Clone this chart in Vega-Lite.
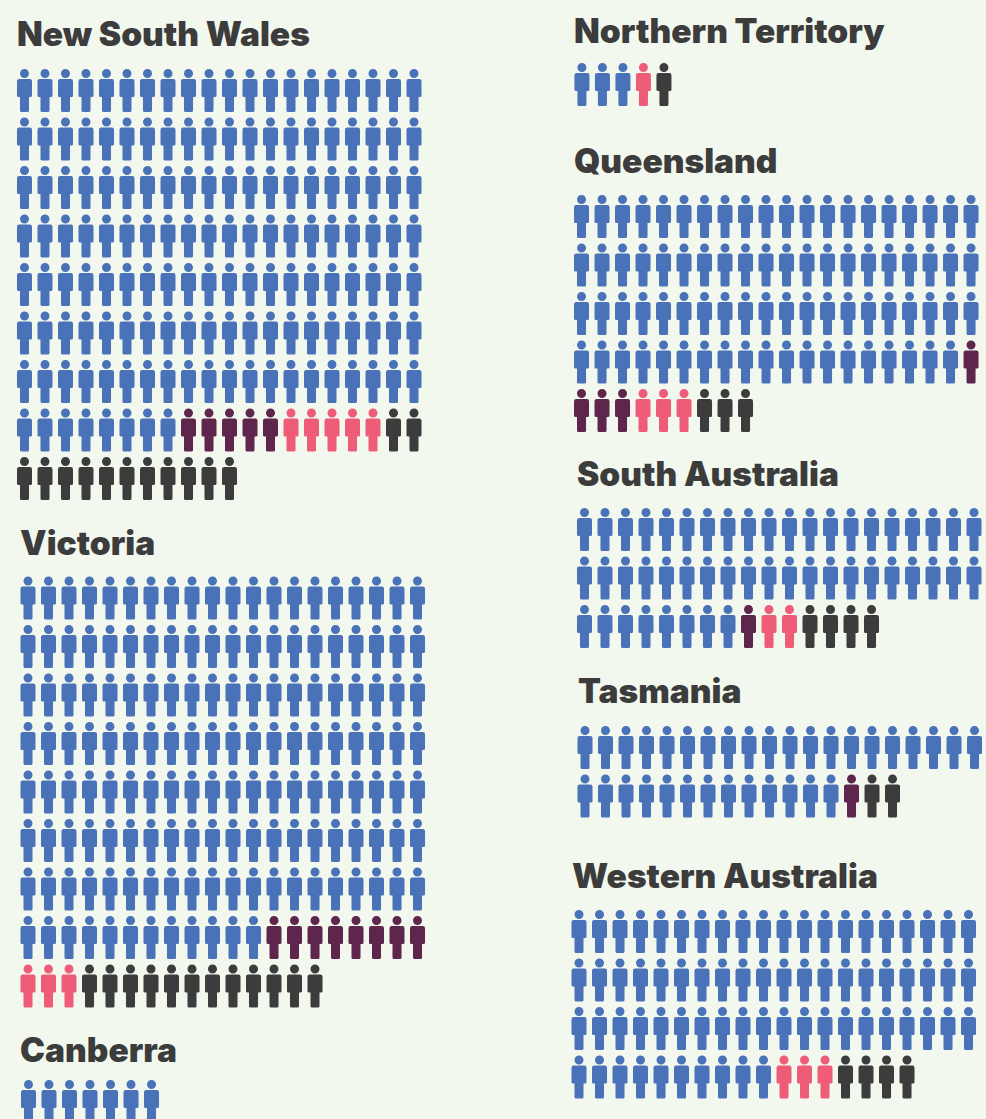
{"$schema":"https://vega.github.io/schema/vega-lite/v6.json","background":"#f3f8ee","padding":{"left":0,"right":0,"top":16,"bottom":0},"autosize":{"type":"pad"},"spacing":120,
"config":{"view":{"stroke":null},"title":{"font":"Inter","fontSize":33.5,"fontWeight":900,"color":"#3c3c3c","anchor":"start","frame":"group","offset":5.5},"point":{"shape":"M-0.21,-0.79 A0.21,0.21 0 1 1 0.21,-0.79 A0.21,0.21 0 1 1 -0.21,-0.79 Z M-0.25,-0.535 L0.25,-0.535 Q0.349,-0.535 0.349,-0.435 L0.349,0.24 Q0.349,0.3 0.28,0.3 L0.21,0.3 L0.21,0.93 Q0.21,1 0.14,1 L-0.14,1 Q-0.21,1 -0.21,0.93 L-0.21,0.3 L-0.28,0.3 Q-0.349,0.3 -0.349,0.24 L-0.349,-0.435 Q-0.349,-0.535 -0.25,-0.535 Z","filled":true,"size":1849,"opacity":1}},
"hconcat":[{"spacing":0,"vconcat":[
{"title":{"text":"New South Wales","dx":17,"dy":3},"width":440,"height":472,"data":{"values":[
{"row":0,"col":0,"group":"blue"},{"row":0,"col":1,"group":"blue"},{"row":0,"col":2,"group":"blue"},{"row":0,"col":3,"group":"blue"},{"row":0,"col":4,"group":"blue"},{"row":0,"col":5,"group":"blue"},{"row":0,"col":6,"group":"blue"},{"row":0,"col":7,"group":"blue"},{"row":0,"col":8,"group":"blue"},{"row":0,"col":9,"group":"blue"},{"row":0,"col":10,"group":"blue"},{"row":0,"col":11,"group":"blue"},{"row":0,"col":12,"group":"blue"},{"row":0,"col":13,"group":"blue"},{"row":0,"col":14,"group":"blue"},{"row":0,"col":15,"group":"blue"},{"row":0,"col":16,"group":"blue"},{"row":0,"col":17,"group":"blue"},{"row":0,"col":18,"group":"blue"},{"row":0,"col":19,"group":"blue"},
{"row":1,"col":0,"group":"blue"},{"row":1,"col":1,"group":"blue"},{"row":1,"col":2,"group":"blue"},{"row":1,"col":3,"group":"blue"},{"row":1,"col":4,"group":"blue"},{"row":1,"col":5,"group":"blue"},{"row":1,"col":6,"group":"blue"},{"row":1,"col":7,"group":"blue"},{"row":1,"col":8,"group":"blue"},{"row":1,"col":9,"group":"blue"},{"row":1,"col":10,"group":"blue"},{"row":1,"col":11,"group":"blue"},{"row":1,"col":12,"group":"blue"},{"row":1,"col":13,"group":"blue"},{"row":1,"col":14,"group":"blue"},{"row":1,"col":15,"group":"blue"},{"row":1,"col":16,"group":"blue"},{"row":1,"col":17,"group":"blue"},{"row":1,"col":18,"group":"blue"},{"row":1,"col":19,"group":"blue"},
{"row":2,"col":0,"group":"blue"},{"row":2,"col":1,"group":"blue"},{"row":2,"col":2,"group":"blue"},{"row":2,"col":3,"group":"blue"},{"row":2,"col":4,"group":"blue"},{"row":2,"col":5,"group":"blue"},{"row":2,"col":6,"group":"blue"},{"row":2,"col":7,"group":"blue"},{"row":2,"col":8,"group":"blue"},{"row":2,"col":9,"group":"blue"},{"row":2,"col":10,"group":"blue"},{"row":2,"col":11,"group":"blue"},{"row":2,"col":12,"group":"blue"},{"row":2,"col":13,"group":"blue"},{"row":2,"col":14,"group":"blue"},{"row":2,"col":15,"group":"blue"},{"row":2,"col":16,"group":"blue"},{"row":2,"col":17,"group":"blue"},{"row":2,"col":18,"group":"blue"},{"row":2,"col":19,"group":"blue"},
{"row":3,"col":0,"group":"blue"},{"row":3,"col":1,"group":"blue"},{"row":3,"col":2,"group":"blue"},{"row":3,"col":3,"group":"blue"},{"row":3,"col":4,"group":"blue"},{"row":3,"col":5,"group":"blue"},{"row":3,"col":6,"group":"blue"},{"row":3,"col":7,"group":"blue"},{"row":3,"col":8,"group":"blue"},{"row":3,"col":9,"group":"blue"},{"row":3,"col":10,"group":"blue"},{"row":3,"col":11,"group":"blue"},{"row":3,"col":12,"group":"blue"},{"row":3,"col":13,"group":"blue"},{"row":3,"col":14,"group":"blue"},{"row":3,"col":15,"group":"blue"},{"row":3,"col":16,"group":"blue"},{"row":3,"col":17,"group":"blue"},{"row":3,"col":18,"group":"blue"},{"row":3,"col":19,"group":"blue"},
{"row":4,"col":0,"group":"blue"},{"row":4,"col":1,"group":"blue"},{"row":4,"col":2,"group":"blue"},{"row":4,"col":3,"group":"blue"},{"row":4,"col":4,"group":"blue"},{"row":4,"col":5,"group":"blue"},{"row":4,"col":6,"group":"blue"},{"row":4,"col":7,"group":"blue"},{"row":4,"col":8,"group":"blue"},{"row":4,"col":9,"group":"blue"},{"row":4,"col":10,"group":"blue"},{"row":4,"col":11,"group":"blue"},{"row":4,"col":12,"group":"blue"},{"row":4,"col":13,"group":"blue"},{"row":4,"col":14,"group":"blue"},{"row":4,"col":15,"group":"blue"},{"row":4,"col":16,"group":"blue"},{"row":4,"col":17,"group":"blue"},{"row":4,"col":18,"group":"blue"},{"row":4,"col":19,"group":"blue"},
{"row":5,"col":0,"group":"blue"},{"row":5,"col":1,"group":"blue"},{"row":5,"col":2,"group":"blue"},{"row":5,"col":3,"group":"blue"},{"row":5,"col":4,"group":"blue"},{"row":5,"col":5,"group":"blue"},{"row":5,"col":6,"group":"blue"},{"row":5,"col":7,"group":"blue"},{"row":5,"col":8,"group":"blue"},{"row":5,"col":9,"group":"blue"},{"row":5,"col":10,"group":"blue"},{"row":5,"col":11,"group":"blue"},{"row":5,"col":12,"group":"blue"},{"row":5,"col":13,"group":"blue"},{"row":5,"col":14,"group":"blue"},{"row":5,"col":15,"group":"blue"},{"row":5,"col":16,"group":"blue"},{"row":5,"col":17,"group":"blue"},{"row":5,"col":18,"group":"blue"},{"row":5,"col":19,"group":"blue"},
{"row":6,"col":0,"group":"blue"},{"row":6,"col":1,"group":"blue"},{"row":6,"col":2,"group":"blue"},{"row":6,"col":3,"group":"blue"},{"row":6,"col":4,"group":"blue"},{"row":6,"col":5,"group":"blue"},{"row":6,"col":6,"group":"blue"},{"row":6,"col":7,"group":"blue"},{"row":6,"col":8,"group":"blue"},{"row":6,"col":9,"group":"blue"},{"row":6,"col":10,"group":"blue"},{"row":6,"col":11,"group":"blue"},{"row":6,"col":12,"group":"blue"},{"row":6,"col":13,"group":"blue"},{"row":6,"col":14,"group":"blue"},{"row":6,"col":15,"group":"blue"},{"row":6,"col":16,"group":"blue"},{"row":6,"col":17,"group":"blue"},{"row":6,"col":18,"group":"blue"},{"row":6,"col":19,"group":"blue"},
{"row":7,"col":0,"group":"blue"},{"row":7,"col":1,"group":"blue"},{"row":7,"col":2,"group":"blue"},{"row":7,"col":3,"group":"blue"},{"row":7,"col":4,"group":"blue"},{"row":7,"col":5,"group":"blue"},{"row":7,"col":6,"group":"blue"},{"row":7,"col":7,"group":"blue"},{"row":7,"col":8,"group":"purple"},{"row":7,"col":9,"group":"purple"},{"row":7,"col":10,"group":"purple"},{"row":7,"col":11,"group":"purple"},{"row":7,"col":12,"group":"purple"},{"row":7,"col":13,"group":"pink"},{"row":7,"col":14,"group":"pink"},{"row":7,"col":15,"group":"pink"},{"row":7,"col":16,"group":"pink"},{"row":7,"col":17,"group":"pink"},{"row":7,"col":18,"group":"dark"},{"row":7,"col":19,"group":"dark"},
{"row":8,"col":0,"group":"dark"},{"row":8,"col":1,"group":"dark"},{"row":8,"col":2,"group":"dark"},{"row":8,"col":3,"group":"dark"},{"row":8,"col":4,"group":"dark"},{"row":8,"col":5,"group":"dark"},{"row":8,"col":6,"group":"dark"},{"row":8,"col":7,"group":"dark"},{"row":8,"col":8,"group":"dark"},{"row":8,"col":9,"group":"dark"},{"row":8,"col":10,"group":"dark"}
]},"mark":{"type":"point","clip":true},"encoding":{"x":{"field":"col","type":"quantitative","axis":null,"scale":{"domain":[-1.195,20.268],"nice":false,"zero":false}},"y":{"field":"row","type":"quantitative","axis":null,"scale":{"domain":[-0.711,9.021],"nice":false,"zero":false,"reverse":true}},"color":{"field":"group","legend":null,"scale":{"domain":["blue","purple","pink","dark"],"range":["#4a72b8","#5e264d","#ee5c78","#3c3c3c"]}}}},
{"title":{"text":"Victoria","dx":20},"width":440,"height":467,"data":{"values":[
{"row":0,"col":0,"group":"blue"},{"row":0,"col":1,"group":"blue"},{"row":0,"col":2,"group":"blue"},{"row":0,"col":3,"group":"blue"},{"row":0,"col":4,"group":"blue"},{"row":0,"col":5,"group":"blue"},{"row":0,"col":6,"group":"blue"},{"row":0,"col":7,"group":"blue"},{"row":0,"col":8,"group":"blue"},{"row":0,"col":9,"group":"blue"},{"row":0,"col":10,"group":"blue"},{"row":0,"col":11,"group":"blue"},{"row":0,"col":12,"group":"blue"},{"row":0,"col":13,"group":"blue"},{"row":0,"col":14,"group":"blue"},{"row":0,"col":15,"group":"blue"},{"row":0,"col":16,"group":"blue"},{"row":0,"col":17,"group":"blue"},{"row":0,"col":18,"group":"blue"},{"row":0,"col":19,"group":"blue"},
{"row":1,"col":0,"group":"blue"},{"row":1,"col":1,"group":"blue"},{"row":1,"col":2,"group":"blue"},{"row":1,"col":3,"group":"blue"},{"row":1,"col":4,"group":"blue"},{"row":1,"col":5,"group":"blue"},{"row":1,"col":6,"group":"blue"},{"row":1,"col":7,"group":"blue"},{"row":1,"col":8,"group":"blue"},{"row":1,"col":9,"group":"blue"},{"row":1,"col":10,"group":"blue"},{"row":1,"col":11,"group":"blue"},{"row":1,"col":12,"group":"blue"},{"row":1,"col":13,"group":"blue"},{"row":1,"col":14,"group":"blue"},{"row":1,"col":15,"group":"blue"},{"row":1,"col":16,"group":"blue"},{"row":1,"col":17,"group":"blue"},{"row":1,"col":18,"group":"blue"},{"row":1,"col":19,"group":"blue"},
{"row":2,"col":0,"group":"blue"},{"row":2,"col":1,"group":"blue"},{"row":2,"col":2,"group":"blue"},{"row":2,"col":3,"group":"blue"},{"row":2,"col":4,"group":"blue"},{"row":2,"col":5,"group":"blue"},{"row":2,"col":6,"group":"blue"},{"row":2,"col":7,"group":"blue"},{"row":2,"col":8,"group":"blue"},{"row":2,"col":9,"group":"blue"},{"row":2,"col":10,"group":"blue"},{"row":2,"col":11,"group":"blue"},{"row":2,"col":12,"group":"blue"},{"row":2,"col":13,"group":"blue"},{"row":2,"col":14,"group":"blue"},{"row":2,"col":15,"group":"blue"},{"row":2,"col":16,"group":"blue"},{"row":2,"col":17,"group":"blue"},{"row":2,"col":18,"group":"blue"},{"row":2,"col":19,"group":"blue"},
{"row":3,"col":0,"group":"blue"},{"row":3,"col":1,"group":"blue"},{"row":3,"col":2,"group":"blue"},{"row":3,"col":3,"group":"blue"},{"row":3,"col":4,"group":"blue"},{"row":3,"col":5,"group":"blue"},{"row":3,"col":6,"group":"blue"},{"row":3,"col":7,"group":"blue"},{"row":3,"col":8,"group":"blue"},{"row":3,"col":9,"group":"blue"},{"row":3,"col":10,"group":"blue"},{"row":3,"col":11,"group":"blue"},{"row":3,"col":12,"group":"blue"},{"row":3,"col":13,"group":"blue"},{"row":3,"col":14,"group":"blue"},{"row":3,"col":15,"group":"blue"},{"row":3,"col":16,"group":"blue"},{"row":3,"col":17,"group":"blue"},{"row":3,"col":18,"group":"blue"},{"row":3,"col":19,"group":"blue"},
{"row":4,"col":0,"group":"blue"},{"row":4,"col":1,"group":"blue"},{"row":4,"col":2,"group":"blue"},{"row":4,"col":3,"group":"blue"},{"row":4,"col":4,"group":"blue"},{"row":4,"col":5,"group":"blue"},{"row":4,"col":6,"group":"blue"},{"row":4,"col":7,"group":"blue"},{"row":4,"col":8,"group":"blue"},{"row":4,"col":9,"group":"blue"},{"row":4,"col":10,"group":"blue"},{"row":4,"col":11,"group":"blue"},{"row":4,"col":12,"group":"blue"},{"row":4,"col":13,"group":"blue"},{"row":4,"col":14,"group":"blue"},{"row":4,"col":15,"group":"blue"},{"row":4,"col":16,"group":"blue"},{"row":4,"col":17,"group":"blue"},{"row":4,"col":18,"group":"blue"},{"row":4,"col":19,"group":"blue"},
{"row":5,"col":0,"group":"blue"},{"row":5,"col":1,"group":"blue"},{"row":5,"col":2,"group":"blue"},{"row":5,"col":3,"group":"blue"},{"row":5,"col":4,"group":"blue"},{"row":5,"col":5,"group":"blue"},{"row":5,"col":6,"group":"blue"},{"row":5,"col":7,"group":"blue"},{"row":5,"col":8,"group":"blue"},{"row":5,"col":9,"group":"blue"},{"row":5,"col":10,"group":"blue"},{"row":5,"col":11,"group":"blue"},{"row":5,"col":12,"group":"blue"},{"row":5,"col":13,"group":"blue"},{"row":5,"col":14,"group":"blue"},{"row":5,"col":15,"group":"blue"},{"row":5,"col":16,"group":"blue"},{"row":5,"col":17,"group":"blue"},{"row":5,"col":18,"group":"blue"},{"row":5,"col":19,"group":"blue"},
{"row":6,"col":0,"group":"blue"},{"row":6,"col":1,"group":"blue"},{"row":6,"col":2,"group":"blue"},{"row":6,"col":3,"group":"blue"},{"row":6,"col":4,"group":"blue"},{"row":6,"col":5,"group":"blue"},{"row":6,"col":6,"group":"blue"},{"row":6,"col":7,"group":"blue"},{"row":6,"col":8,"group":"blue"},{"row":6,"col":9,"group":"blue"},{"row":6,"col":10,"group":"blue"},{"row":6,"col":11,"group":"blue"},{"row":6,"col":12,"group":"blue"},{"row":6,"col":13,"group":"blue"},{"row":6,"col":14,"group":"blue"},{"row":6,"col":15,"group":"blue"},{"row":6,"col":16,"group":"blue"},{"row":6,"col":17,"group":"blue"},{"row":6,"col":18,"group":"blue"},{"row":6,"col":19,"group":"blue"},
{"row":7,"col":0,"group":"blue"},{"row":7,"col":1,"group":"blue"},{"row":7,"col":2,"group":"blue"},{"row":7,"col":3,"group":"blue"},{"row":7,"col":4,"group":"blue"},{"row":7,"col":5,"group":"blue"},{"row":7,"col":6,"group":"blue"},{"row":7,"col":7,"group":"blue"},{"row":7,"col":8,"group":"blue"},{"row":7,"col":9,"group":"blue"},{"row":7,"col":10,"group":"blue"},{"row":7,"col":11,"group":"blue"},{"row":7,"col":12,"group":"purple"},{"row":7,"col":13,"group":"purple"},{"row":7,"col":14,"group":"purple"},{"row":7,"col":15,"group":"purple"},{"row":7,"col":16,"group":"purple"},{"row":7,"col":17,"group":"purple"},{"row":7,"col":18,"group":"purple"},{"row":7,"col":19,"group":"purple"},
{"row":8,"col":0,"group":"pink"},{"row":8,"col":1,"group":"pink"},{"row":8,"col":2,"group":"pink"},{"row":8,"col":3,"group":"dark"},{"row":8,"col":4,"group":"dark"},{"row":8,"col":5,"group":"dark"},{"row":8,"col":6,"group":"dark"},{"row":8,"col":7,"group":"dark"},{"row":8,"col":8,"group":"dark"},{"row":8,"col":9,"group":"dark"},{"row":8,"col":10,"group":"dark"},{"row":8,"col":11,"group":"dark"},{"row":8,"col":12,"group":"dark"},{"row":8,"col":13,"group":"dark"},{"row":8,"col":14,"group":"dark"}
]},"mark":{"type":"point","clip":true},"encoding":{"x":{"field":"col","type":"quantitative","axis":null,"scale":{"domain":[-1.366,20.097],"nice":false,"zero":false}},"y":{"field":"row","type":"quantitative","axis":null,"scale":{"domain":[-0.619,9.01],"nice":false,"zero":false,"reverse":true}},"color":{"field":"group","legend":null,"scale":{"domain":["blue","purple","pink","dark"],"range":["#4a72b8","#5e264d","#ee5c78","#3c3c3c"]}}}},
{"title":{"text":"Canberra","dx":20},"width":440,"height":44,"data":{"values":[
{"row":0,"col":0,"group":"blue"},{"row":0,"col":1,"group":"blue"},{"row":0,"col":2,"group":"blue"},{"row":0,"col":3,"group":"blue"},{"row":0,"col":4,"group":"blue"},{"row":0,"col":5,"group":"blue"},{"row":0,"col":6,"group":"blue"}
]},"mark":{"type":"point","clip":true},"encoding":{"x":{"field":"col","type":"quantitative","axis":null,"scale":{"domain":[-1.39,20.07],"nice":false,"zero":false}},"y":{"field":"row","type":"quantitative","axis":null,"scale":{"domain":[-0.546,0.361],"nice":false,"zero":false,"reverse":true}},"color":{"field":"group","legend":null,"scale":{"domain":["blue","purple","pink","dark"],"range":["#4a72b8","#5e264d","#ee5c78","#3c3c3c"]}}}}
]},{"spacing":0,"vconcat":[
{"title":{"text":"Northern Territory","dx":14},"width":426,"height":90,"data":{"values":[
{"row":0,"col":0,"group":"blue"},{"row":0,"col":1,"group":"blue"},{"row":0,"col":2,"group":"blue"},{"row":0,"col":3,"group":"pink"},{"row":0,"col":4,"group":"dark"}
]},"mark":{"type":"point","clip":true},"encoding":{"x":{"field":"col","type":"quantitative","axis":null,"scale":{"domain":[-1.07,19.71],"nice":false,"zero":false}},"y":{"field":"row","type":"quantitative","axis":null,"scale":{"domain":[-0.588,1.268],"nice":false,"zero":false,"reverse":true}},"color":{"field":"group","legend":null,"scale":{"domain":["blue","purple","pink","dark"],"range":["#4a72b8","#5e264d","#ee5c78","#3c3c3c"]}}}},
{"title":{"text":"Queensland","dx":14},"width":426,"height":273,"data":{"values":[
{"row":0,"col":0,"group":"blue"},{"row":0,"col":1,"group":"blue"},{"row":0,"col":2,"group":"blue"},{"row":0,"col":3,"group":"blue"},{"row":0,"col":4,"group":"blue"},{"row":0,"col":5,"group":"blue"},{"row":0,"col":6,"group":"blue"},{"row":0,"col":7,"group":"blue"},{"row":0,"col":8,"group":"blue"},{"row":0,"col":9,"group":"blue"},{"row":0,"col":10,"group":"blue"},{"row":0,"col":11,"group":"blue"},{"row":0,"col":12,"group":"blue"},{"row":0,"col":13,"group":"blue"},{"row":0,"col":14,"group":"blue"},{"row":0,"col":15,"group":"blue"},{"row":0,"col":16,"group":"blue"},{"row":0,"col":17,"group":"blue"},{"row":0,"col":18,"group":"blue"},{"row":0,"col":19,"group":"blue"},
{"row":1,"col":0,"group":"blue"},{"row":1,"col":1,"group":"blue"},{"row":1,"col":2,"group":"blue"},{"row":1,"col":3,"group":"blue"},{"row":1,"col":4,"group":"blue"},{"row":1,"col":5,"group":"blue"},{"row":1,"col":6,"group":"blue"},{"row":1,"col":7,"group":"blue"},{"row":1,"col":8,"group":"blue"},{"row":1,"col":9,"group":"blue"},{"row":1,"col":10,"group":"blue"},{"row":1,"col":11,"group":"blue"},{"row":1,"col":12,"group":"blue"},{"row":1,"col":13,"group":"blue"},{"row":1,"col":14,"group":"blue"},{"row":1,"col":15,"group":"blue"},{"row":1,"col":16,"group":"blue"},{"row":1,"col":17,"group":"blue"},{"row":1,"col":18,"group":"blue"},{"row":1,"col":19,"group":"blue"},
{"row":2,"col":0,"group":"blue"},{"row":2,"col":1,"group":"blue"},{"row":2,"col":2,"group":"blue"},{"row":2,"col":3,"group":"blue"},{"row":2,"col":4,"group":"blue"},{"row":2,"col":5,"group":"blue"},{"row":2,"col":6,"group":"blue"},{"row":2,"col":7,"group":"blue"},{"row":2,"col":8,"group":"blue"},{"row":2,"col":9,"group":"blue"},{"row":2,"col":10,"group":"blue"},{"row":2,"col":11,"group":"blue"},{"row":2,"col":12,"group":"blue"},{"row":2,"col":13,"group":"blue"},{"row":2,"col":14,"group":"blue"},{"row":2,"col":15,"group":"blue"},{"row":2,"col":16,"group":"blue"},{"row":2,"col":17,"group":"blue"},{"row":2,"col":18,"group":"blue"},{"row":2,"col":19,"group":"blue"},
{"row":3,"col":0,"group":"blue"},{"row":3,"col":1,"group":"blue"},{"row":3,"col":2,"group":"blue"},{"row":3,"col":3,"group":"blue"},{"row":3,"col":4,"group":"blue"},{"row":3,"col":5,"group":"blue"},{"row":3,"col":6,"group":"blue"},{"row":3,"col":7,"group":"blue"},{"row":3,"col":8,"group":"blue"},{"row":3,"col":9,"group":"blue"},{"row":3,"col":10,"group":"blue"},{"row":3,"col":11,"group":"blue"},{"row":3,"col":12,"group":"blue"},{"row":3,"col":13,"group":"blue"},{"row":3,"col":14,"group":"blue"},{"row":3,"col":15,"group":"blue"},{"row":3,"col":16,"group":"blue"},{"row":3,"col":17,"group":"blue"},{"row":3,"col":18,"group":"blue"},{"row":3,"col":19,"group":"purple"},
{"row":4,"col":0,"group":"purple"},{"row":4,"col":1,"group":"purple"},{"row":4,"col":2,"group":"purple"},{"row":4,"col":3,"group":"pink"},{"row":4,"col":4,"group":"pink"},{"row":4,"col":5,"group":"pink"},{"row":4,"col":6,"group":"dark"},{"row":4,"col":7,"group":"dark"},{"row":4,"col":8,"group":"dark"}
]},"mark":{"type":"point","clip":true},"encoding":{"x":{"field":"col","type":"quantitative","axis":null,"scale":{"domain":[-1.05,19.73],"nice":false,"zero":false}},"y":{"field":"row","type":"quantitative","axis":null,"scale":{"domain":[-0.629,5.0],"nice":false,"zero":false,"reverse":true}},"color":{"field":"group","legend":null,"scale":{"domain":["blue","purple","pink","dark"],"range":["#4a72b8","#5e264d","#ee5c78","#3c3c3c"]}}}},
{"title":{"text":"South Australia","dx":17},"width":426,"height":177,"data":{"values":[
{"row":0,"col":0,"group":"blue"},{"row":0,"col":1,"group":"blue"},{"row":0,"col":2,"group":"blue"},{"row":0,"col":3,"group":"blue"},{"row":0,"col":4,"group":"blue"},{"row":0,"col":5,"group":"blue"},{"row":0,"col":6,"group":"blue"},{"row":0,"col":7,"group":"blue"},{"row":0,"col":8,"group":"blue"},{"row":0,"col":9,"group":"blue"},{"row":0,"col":10,"group":"blue"},{"row":0,"col":11,"group":"blue"},{"row":0,"col":12,"group":"blue"},{"row":0,"col":13,"group":"blue"},{"row":0,"col":14,"group":"blue"},{"row":0,"col":15,"group":"blue"},{"row":0,"col":16,"group":"blue"},{"row":0,"col":17,"group":"blue"},{"row":0,"col":18,"group":"blue"},{"row":0,"col":19,"group":"blue"},
{"row":1,"col":0,"group":"blue"},{"row":1,"col":1,"group":"blue"},{"row":1,"col":2,"group":"blue"},{"row":1,"col":3,"group":"blue"},{"row":1,"col":4,"group":"blue"},{"row":1,"col":5,"group":"blue"},{"row":1,"col":6,"group":"blue"},{"row":1,"col":7,"group":"blue"},{"row":1,"col":8,"group":"blue"},{"row":1,"col":9,"group":"blue"},{"row":1,"col":10,"group":"blue"},{"row":1,"col":11,"group":"blue"},{"row":1,"col":12,"group":"blue"},{"row":1,"col":13,"group":"blue"},{"row":1,"col":14,"group":"blue"},{"row":1,"col":15,"group":"blue"},{"row":1,"col":16,"group":"blue"},{"row":1,"col":17,"group":"blue"},{"row":1,"col":18,"group":"blue"},{"row":1,"col":19,"group":"blue"},
{"row":2,"col":0,"group":"blue"},{"row":2,"col":1,"group":"blue"},{"row":2,"col":2,"group":"blue"},{"row":2,"col":3,"group":"blue"},{"row":2,"col":4,"group":"blue"},{"row":2,"col":5,"group":"blue"},{"row":2,"col":6,"group":"blue"},{"row":2,"col":7,"group":"blue"},{"row":2,"col":8,"group":"purple"},{"row":2,"col":9,"group":"pink"},{"row":2,"col":10,"group":"pink"},{"row":2,"col":11,"group":"dark"},{"row":2,"col":12,"group":"dark"},{"row":2,"col":13,"group":"dark"},{"row":2,"col":14,"group":"dark"}
]},"mark":{"type":"point","clip":true},"encoding":{"x":{"field":"col","type":"quantitative","axis":null,"scale":{"domain":[-1.195,19.585],"nice":false,"zero":false}},"y":{"field":"row","type":"quantitative","axis":null,"scale":{"domain":[-0.629,3.021],"nice":false,"zero":false,"reverse":true}},"color":{"field":"group","legend":null,"scale":{"domain":["blue","purple","pink","dark"],"range":["#4a72b8","#5e264d","#ee5c78","#3c3c3c"]}}}},
{"title":{"text":"Tasmania","dx":18},"width":426,"height":145,"data":{"values":[
{"row":0,"col":0,"group":"blue"},{"row":0,"col":1,"group":"blue"},{"row":0,"col":2,"group":"blue"},{"row":0,"col":3,"group":"blue"},{"row":0,"col":4,"group":"blue"},{"row":0,"col":5,"group":"blue"},{"row":0,"col":6,"group":"blue"},{"row":0,"col":7,"group":"blue"},{"row":0,"col":8,"group":"blue"},{"row":0,"col":9,"group":"blue"},{"row":0,"col":10,"group":"blue"},{"row":0,"col":11,"group":"blue"},{"row":0,"col":12,"group":"blue"},{"row":0,"col":13,"group":"blue"},{"row":0,"col":14,"group":"blue"},{"row":0,"col":15,"group":"blue"},{"row":0,"col":16,"group":"blue"},{"row":0,"col":17,"group":"blue"},{"row":0,"col":18,"group":"blue"},{"row":0,"col":19,"group":"blue"},
{"row":1,"col":0,"group":"blue"},{"row":1,"col":1,"group":"blue"},{"row":1,"col":2,"group":"blue"},{"row":1,"col":3,"group":"blue"},{"row":1,"col":4,"group":"blue"},{"row":1,"col":5,"group":"blue"},{"row":1,"col":6,"group":"blue"},{"row":1,"col":7,"group":"blue"},{"row":1,"col":8,"group":"blue"},{"row":1,"col":9,"group":"blue"},{"row":1,"col":10,"group":"blue"},{"row":1,"col":11,"group":"blue"},{"row":1,"col":12,"group":"blue"},{"row":1,"col":13,"group":"purple"},{"row":1,"col":14,"group":"dark"},{"row":1,"col":15,"group":"dark"}
]},"mark":{"type":"point","clip":true},"encoding":{"x":{"field":"col","type":"quantitative","axis":null,"scale":{"domain":[-1.22,19.56],"nice":false,"zero":false}},"y":{"field":"row","type":"quantitative","axis":null,"scale":{"domain":[-0.649,2.341],"nice":false,"zero":false,"reverse":true}},"color":{"field":"group","legend":null,"scale":{"domain":["blue","purple","pink","dark"],"range":["#4a72b8","#5e264d","#ee5c78","#3c3c3c"]}}}},
{"title":{"text":"Western Australia","dx":12},"width":426,"height":218,"data":{"values":[
{"row":0,"col":0,"group":"blue"},{"row":0,"col":1,"group":"blue"},{"row":0,"col":2,"group":"blue"},{"row":0,"col":3,"group":"blue"},{"row":0,"col":4,"group":"blue"},{"row":0,"col":5,"group":"blue"},{"row":0,"col":6,"group":"blue"},{"row":0,"col":7,"group":"blue"},{"row":0,"col":8,"group":"blue"},{"row":0,"col":9,"group":"blue"},{"row":0,"col":10,"group":"blue"},{"row":0,"col":11,"group":"blue"},{"row":0,"col":12,"group":"blue"},{"row":0,"col":13,"group":"blue"},{"row":0,"col":14,"group":"blue"},{"row":0,"col":15,"group":"blue"},{"row":0,"col":16,"group":"blue"},{"row":0,"col":17,"group":"blue"},{"row":0,"col":18,"group":"blue"},{"row":0,"col":19,"group":"blue"},
{"row":1,"col":0,"group":"blue"},{"row":1,"col":1,"group":"blue"},{"row":1,"col":2,"group":"blue"},{"row":1,"col":3,"group":"blue"},{"row":1,"col":4,"group":"blue"},{"row":1,"col":5,"group":"blue"},{"row":1,"col":6,"group":"blue"},{"row":1,"col":7,"group":"blue"},{"row":1,"col":8,"group":"blue"},{"row":1,"col":9,"group":"blue"},{"row":1,"col":10,"group":"blue"},{"row":1,"col":11,"group":"blue"},{"row":1,"col":12,"group":"blue"},{"row":1,"col":13,"group":"blue"},{"row":1,"col":14,"group":"blue"},{"row":1,"col":15,"group":"blue"},{"row":1,"col":16,"group":"blue"},{"row":1,"col":17,"group":"blue"},{"row":1,"col":18,"group":"blue"},{"row":1,"col":19,"group":"blue"},
{"row":2,"col":0,"group":"blue"},{"row":2,"col":1,"group":"blue"},{"row":2,"col":2,"group":"blue"},{"row":2,"col":3,"group":"blue"},{"row":2,"col":4,"group":"blue"},{"row":2,"col":5,"group":"blue"},{"row":2,"col":6,"group":"blue"},{"row":2,"col":7,"group":"blue"},{"row":2,"col":8,"group":"blue"},{"row":2,"col":9,"group":"blue"},{"row":2,"col":10,"group":"blue"},{"row":2,"col":11,"group":"blue"},{"row":2,"col":12,"group":"blue"},{"row":2,"col":13,"group":"blue"},{"row":2,"col":14,"group":"blue"},{"row":2,"col":15,"group":"blue"},{"row":2,"col":16,"group":"blue"},{"row":2,"col":17,"group":"blue"},{"row":2,"col":18,"group":"blue"},{"row":2,"col":19,"group":"blue"},
{"row":3,"col":0,"group":"blue"},{"row":3,"col":1,"group":"blue"},{"row":3,"col":2,"group":"blue"},{"row":3,"col":3,"group":"blue"},{"row":3,"col":4,"group":"blue"},{"row":3,"col":5,"group":"blue"},{"row":3,"col":6,"group":"blue"},{"row":3,"col":7,"group":"blue"},{"row":3,"col":8,"group":"blue"},{"row":3,"col":9,"group":"blue"},{"row":3,"col":10,"group":"pink"},{"row":3,"col":11,"group":"pink"},{"row":3,"col":12,"group":"pink"},{"row":3,"col":13,"group":"dark"},{"row":3,"col":14,"group":"dark"},{"row":3,"col":15,"group":"dark"},{"row":3,"col":16,"group":"dark"}
]},"mark":{"type":"point","clip":true},"encoding":{"x":{"field":"col","type":"quantitative","axis":null,"scale":{"domain":[-0.927,19.853],"nice":false,"zero":false}},"y":{"field":"row","type":"quantitative","axis":null,"scale":{"domain":[-0.629,3.866],"nice":false,"zero":false,"reverse":true}},"color":{"field":"group","legend":null,"scale":{"domain":["blue","purple","pink","dark"],"range":["#4a72b8","#5e264d","#ee5c78","#3c3c3c"]}}}}
]}]}
